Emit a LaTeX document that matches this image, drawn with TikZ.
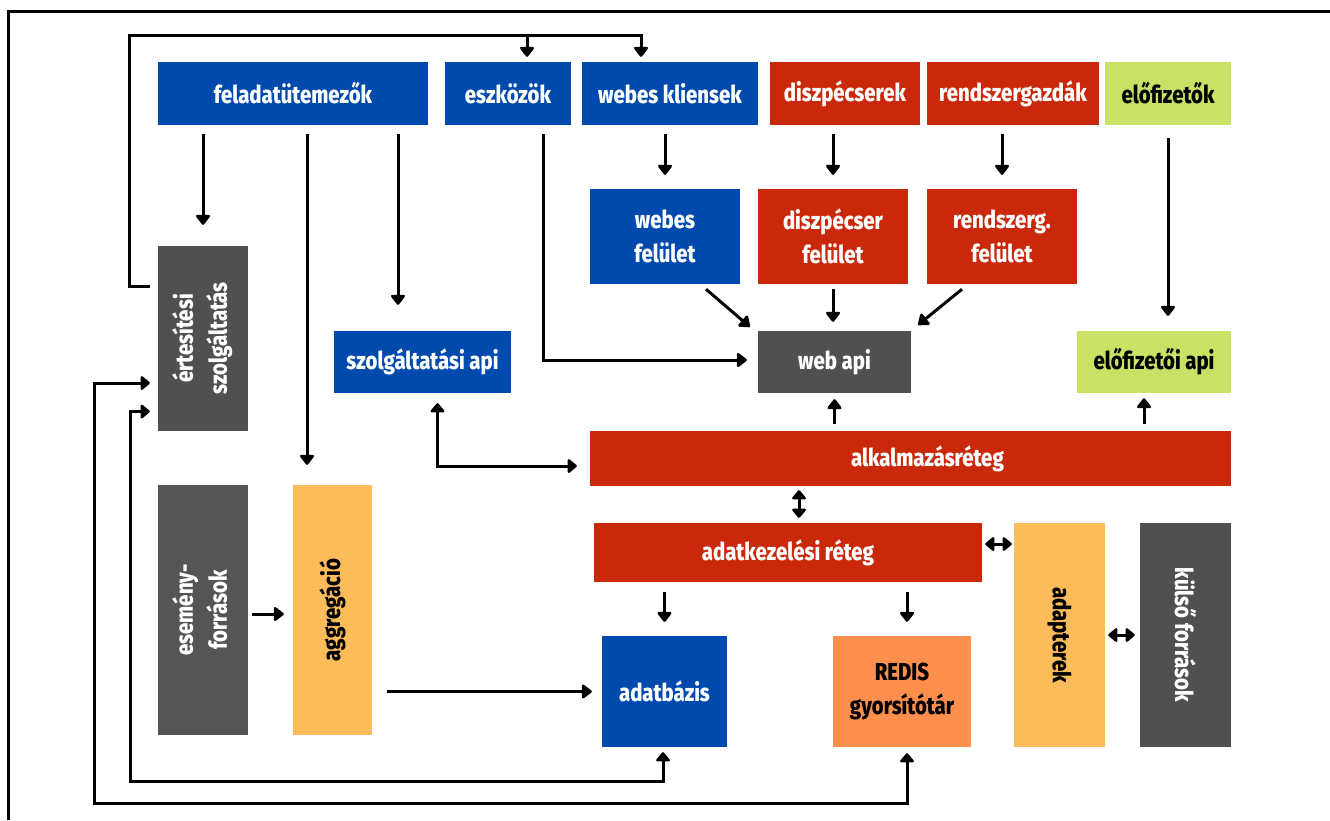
\documentclass[tikz,border=0pt]{standalone}
\usepackage{fontspec}
\setmainfont{Fira Sans}[FakeStretch=0.83, BoldFont={Fira Sans ExtraBold}]
\usetikzlibrary{arrows.meta,calc}
\definecolor{cblue}{HTML}{004AAD}
\definecolor{cred}{HTML}{C9290A}
\definecolor{cgray}{HTML}{505050}
\definecolor{cgrayb}{HTML}{555555}
\definecolor{cgreen}{HTML}{C9E265}
\definecolor{corange}{HTML}{FDBC5A}
\definecolor{credis}{HTML}{FF8F4D}
\tikzset{
  box/.style={inner sep=0pt, align=center, text=white,
    font=\fontsize{24.5}{34}\selectfont\bfseries},
  dark/.style={box, text=black},
  arr/.style={line width=3pt, -{Triangle[round,width=16pt,length=11pt]}},
  dbl/.style={line width=3pt, {Triangle[round,width=16pt,length=10pt]}-{Triangle[round,width=16pt,length=10pt]}},
  plain/.style={line width=3pt},
}
\begin{document}
\begin{tikzpicture}[x=1pt,y=-1pt]
\useasboundingbox (0,0) rectangle (1330,820);
% frame
\draw[plain] (8,820) -- (8,11) -- (1330,11);

% top row
\node[box, fill=cblue, minimum width=270, minimum height=63] (fel) at (293,93.5) {feladatütemezők};
\node[box, fill=cblue, minimum width=126, minimum height=63] (esz) at (508,93.5) {eszközök};
\node[box, fill=cblue, minimum width=176, minimum height=63] (wk) at (670,93.5) {webes kliensek};
\node[box, fill=cred, minimum width=150, minimum height=63] (disp) at (845,93.5) {diszpécserek};
\node[box, fill=cred, minimum width=172, minimum height=63] (rg) at (1013,93.5) {rendszergazdák};
\node[dark, fill=cgreen, minimum width=126, minimum height=63] (elo) at (1168,93.5) {előfizetők};

% second row
\node[box, fill=cblue, minimum width=150, minimum height=95] (wf) at (665,236.5) {webes\\felület};
\node[box, fill=cred, minimum width=150, minimum height=95] (df) at (833,236.5) {diszpécser\\felület};
\node[box, fill=cred, minimum width=150, minimum height=95] (rf) at (1002,236.5) {rendszerg.\\felület};

% apis
\node[box, fill=cblue, minimum width=177, minimum height=62] (szapi) at (422.5,362) {szolgáltatási api};
\node[box, fill=cgray, minimum width=153, minimum height=62] (wapi) at (834.5,362) {web api};
\node[dark, fill=cgreen, minimum width=154, minimum height=62] (eapi) at (1154,362) {előfizetői api};

% layers
\node[box, fill=cred, minimum width=641, minimum height=55] (alk) at (910.5,458.5) {\hspace*{34pt}alkalmazásréteg};
\node[box, fill=cred, minimum width=388, minimum height=59] (adk) at (788,552.5) {adatkezelési réteg};
\node[dark, fill=corange, minimum width=91, minimum height=224] (adap) at (1059.5,635) {\rotatebox{-90}{adapterek}};
\node[box, fill=cgray, minimum width=91, minimum height=224] (kulso) at (1185.5,635) {\rotatebox{-90}{külső források}};

% left column
\node[box, fill=cgray, minimum width=90, minimum height=185] (ert) at (203,338.5) {\rotatebox{90}{\begin{tabular}{@{}c@{}}értesítési\\szolgáltatás\end{tabular}}};
\node[box, fill=cgrayb, minimum width=90, minimum height=250] (esem) at (203,610) {\rotatebox{90}{\begin{tabular}{@{}c@{}}esemény-\\források\end{tabular}}};
\node[dark, fill=corange, minimum width=79, minimum height=250] (agg) at (332.5,610) {\rotatebox{90}{aggregáció}};

% storage
\node[box, fill=cblue, minimum width=125, minimum height=111] (adb) at (664.5,691.5) {adatbázis};
\node[dark, fill=credis, minimum width=138, minimum height=111] (redis) at (902,691.5) {REDIS\\gyorsítótár};

% helper coordinates
\coordinate (a2) at ([xshift=-25.5pt]agg.north);
\coordinate (a3) at ([xshift=-24.5pt]szapi.north);
\coordinate (ertout) at ([shift={(-8pt,-41pt)}]ert.north west);
\coordinate (toprow) at (129,35);
\coordinate (eszin) at ([shift={(19pt,5pt)}]esz.north);
\coordinate (wkin) at ([shift={(-29pt,5pt)}]wk.north);
\coordinate (eapiin) at ([xshift=-10pt]eapi.south);
\coordinate (redisin) at ([xshift=5pt]redis.south);
\coordinate (lp1) at (130,781);
\coordinate (lp2) at (94,803);
\coordinate (ertin1) at ([shift={(-8pt,-44.5pt)}]ert.west);
\coordinate (ertin2) at ([shift={(-8pt,-73pt)}]ert.west);

% connectors from feladatütemezők
\draw[arr, shorten <=9pt, shorten >=21pt] (fel.south -| ert.north) -- (ert.north);
\draw[arr, shorten <=9pt, shorten >=20pt] (fel.south -| a2) -- (a2);
\draw[arr, shorten <=9pt, shorten >=26pt] (fel.south -| a3) -- (a3);

% notification loop to top row
\draw[arr] (ertout) -| (toprow) -| (wkin);
\draw[arr] (eszin |- toprow) -- (eszin);

% clients to interfaces
\draw[arr, shorten <=9pt, shorten >=14pt] (wk.south -| wf.north) -- (wf.north);
\draw[arr, shorten <=9pt, shorten >=14pt] (disp.south -| df.north) -- (df.north);
\draw[arr, shorten <=9pt, shorten >=14pt] (rg.south -| rf.north) -- (rf.north);
\draw[arr, shorten <=13pt, shorten >=15pt] (elo.south) -- (elo.south |- eapi.north);

% interfaces to web api
\draw[arr] ([shift={(41pt,-5pt)}]wf.south) -- ([shift={(-8pt,4pt)}]wapi.north west);
\draw[arr, shorten <=5pt, shorten >=9pt] (df.south) -- (df.south |- wapi.north);
\draw[arr] ([shift={(-40pt,-5pt)}]rf.south) -- ([shift={(7pt,6pt)}]wapi.north east);
\draw[arr] ([shift={(35pt,-9pt)}]esz.south) |- ([shift={(-11pt,2pt)}]wapi.west);

% layer up arrows
\draw[arr, shorten <=7pt, shorten >=6pt] (wapi.south |- alk.north) -- (wapi.south);
\draw[arr, shorten <=7pt, shorten >=5pt] (eapiin |- alk.north) -- (eapiin);
\draw[dbl] ([shift={(15pt,-10pt)}]szapi.south) |- ([shift={(-13pt,-7.5pt)}]alk.west);
\draw[dbl, shorten <=4pt, shorten >=5pt] ([xshift=11pt]adk.north |- alk.south) -- ([xshift=11pt]adk.north);
\draw[dbl, shorten <=3pt, shorten >=2pt] ([yshift=8.5pt]adk.east) -- ([yshift=8.5pt]adk.east -| adap.west);
\draw[dbl, shorten <=3pt, shorten >=5pt] (adap.east) -- (kulso.west);

% data layer down arrows
\draw[arr, shorten <=10pt, shorten >=14pt] (adb.north |- adk.south) -- (adb.north);
\draw[arr, shorten <=10pt, shorten >=14pt] (redisin |- adk.south) -- ([xshift=5pt]redis.north);

% left flow
\draw[arr, shorten <=4pt, shorten >=9pt] ([yshift=-4pt]esem.east) -- ([yshift=-4pt]agg.west);
\draw[arr, shorten <=15pt, shorten >=10pt] (agg.east |- adb.west) -- (adb.west);

% bottom loops
\draw[dbl] ([shift={(-1.5pt,-5pt)}]adb.south) |- (lp1) |- (ertin2);
\draw[dbl] ([yshift=-6pt]redisin) |- (lp2) |- (ertin1);
\end{tikzpicture}
\end{document}
